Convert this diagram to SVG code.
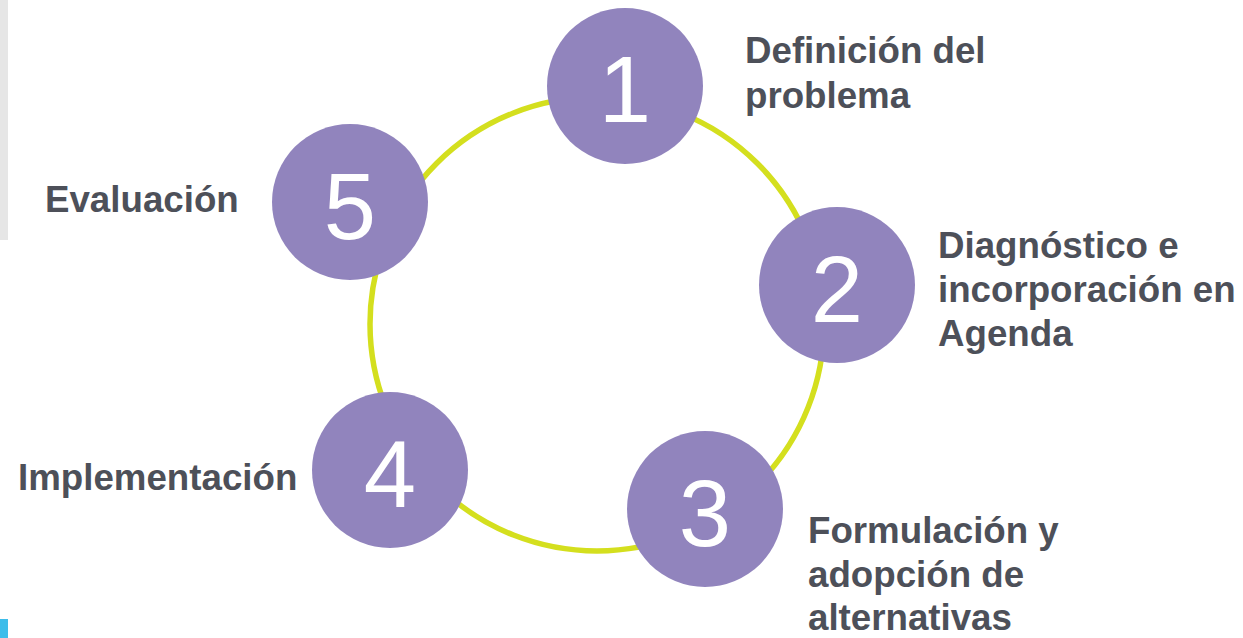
<svg xmlns="http://www.w3.org/2000/svg" width="1243" height="638" viewBox="0 0 1243 638">
<style>
.node{fill:#9184bd}
.num{font-family:"Liberation Sans",Arial,sans-serif;font-size:94px;fill:#ffffff;text-anchor:middle}
.lbl{font-family:"Liberation Sans",Arial,sans-serif;font-weight:bold;font-size:36.7px;fill:#4d5059}
.ring{fill:none;stroke:#d4df1e;stroke-width:5.5}
</style>
<rect x="0" y="0" width="1243" height="638" fill="#ffffff"/>
<rect x="0" y="0" width="8" height="240" fill="#e6e6e6"/>
<rect x="0" y="619" width="8" height="19" fill="#3dbdea"/>
<g id="connectors">
<circle class="ring" cx="597" cy="324" r="227"/>
</g>
<g id="node1">
<circle class="node" cx="625" cy="86" r="78"/>
<text class="num" x="625" y="122">1</text>
<text class="lbl" x="745" y="63">Definición del</text>
<text class="lbl" x="745" y="108">problema</text>
</g>
<g id="node2">
<circle class="node" cx="837" cy="285" r="78"/>
<text class="num" x="837" y="322">2</text>
<text class="lbl" x="938" y="258">Diagnóstico e</text>
<text class="lbl" x="938" y="302">incorporación en</text>
<text class="lbl" x="938" y="346">Agenda</text>
</g>
<g id="node3">
<circle class="node" cx="705" cy="509" r="78"/>
<text class="num" x="705" y="546">3</text>
<text class="lbl" x="808" y="543">Formulación y</text>
<text class="lbl" x="808" y="587">adopción de</text>
<text class="lbl" x="808" y="630">alternativas</text>
</g>
<g id="node4">
<circle class="node" cx="390" cy="470" r="78"/>
<text class="num" x="390" y="507">4</text>
<text class="lbl" x="18" y="490">Implementación</text>
</g>
<g id="node5">
<circle class="node" cx="350" cy="202" r="78"/>
<text class="num" x="350" y="239">5</text>
<text class="lbl" x="45" y="212">Evaluación</text>
</g>
</svg>
